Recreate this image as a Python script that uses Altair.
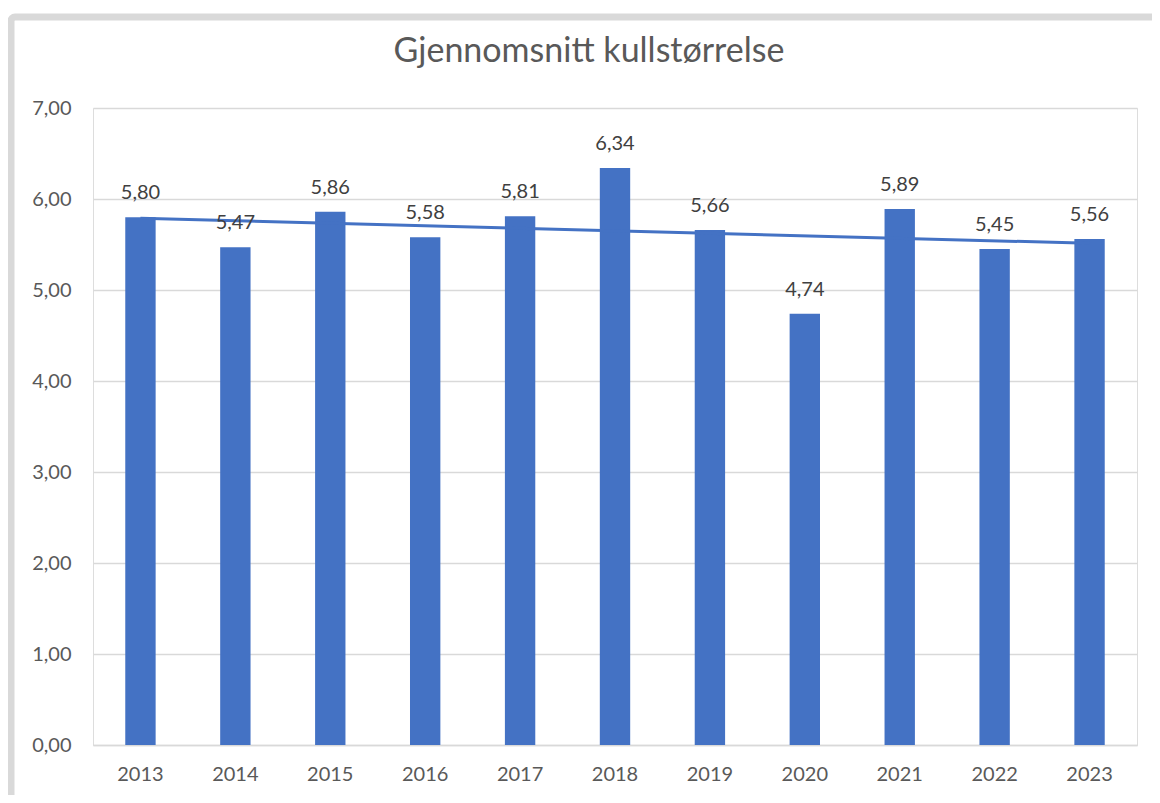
import altair as alt
import pandas as pd

years = [2013, 2014, 2015, 2016, 2017, 2018, 2019, 2020, 2021, 2022, 2023]
values = [5.80, 5.47, 5.86, 5.58, 5.81, 6.34, 5.66, 4.74, 5.89, 5.45, 5.56]
labels = ["5,80", "5,47", "5,86", "5,58", "5,81", "6,34", "5,66", "4,74", "5,89", "5,45", "5,56"]
title_text = "Gjennomsnitt kullstørrelse"

df = pd.DataFrame({"year": years, "value": values, "label": labels})

BLUE = "#4472C4"
GRAY = "#595959"
FONT = "Lato"

x = alt.X("year:O", title=None,
          scale=alt.Scale(paddingInner=0.68, paddingOuter=0.34),
          axis=alt.Axis(labelAngle=0, labelFontSize=20, labelColor=GRAY, labelFont=FONT,
                        ticks=False, domainColor="#d9d9d9", domainWidth=1.5, labelPadding=19))
y = alt.Y("value:Q", title=None,
          scale=alt.Scale(domain=[0, 7], nice=False),
          axis=alt.Axis(values=[0, 1, 2, 3, 4, 5, 6, 7], labelExpr="replace(format(datum.value, '.2f'), '.', ',')",
                        labelFontSize=20, labelColor=GRAY, labelFont=FONT, ticks=False, domain=False,
                        gridColor="#d9d9d9", gridWidth=1.5, labelPadding=22))

base = alt.Chart(df)

bars = base.mark_bar(color=BLUE).encode(x=x, y=y)

text = base.mark_text(baseline="bottom", dy=-14, fontSize=20, color="#404040", font=FONT).encode(
    x="year:O", y="value:Q", text="label:N")

trend = base.transform_regression("year", "value").mark_line(color=BLUE, strokeWidth=3).encode(
    x="year:O", y="value:Q")

frame = alt.Chart(pd.DataFrame({"a": [0]})).mark_rect(
    fill=None, stroke="#d9d9d9", strokeWidth=7, cornerRadius=4).encode(
    x=alt.value(-82), x2=alt.value(1200), y=alt.value(-91), y2=alt.value(900))

title = alt.Chart(pd.DataFrame({"t": [title_text]})).mark_text(
    fontSize=34, font=FONT, color=GRAY, baseline="middle", align="center").encode(
    text="t:N", x=alt.value(496), y=alt.value(-56))

chart = alt.layer(frame, bars, trend, text, title).properties(
    width=1044, height=637,
    autosize=alt.AutoSizeParams(type="none"),
    padding={"left": 85, "top": 100, "right": 15, "bottom": 50},
).configure_view(stroke=None).configure(background="white")

chart.save("out.html", embed_options={"renderer": "svg", "actions": False})
